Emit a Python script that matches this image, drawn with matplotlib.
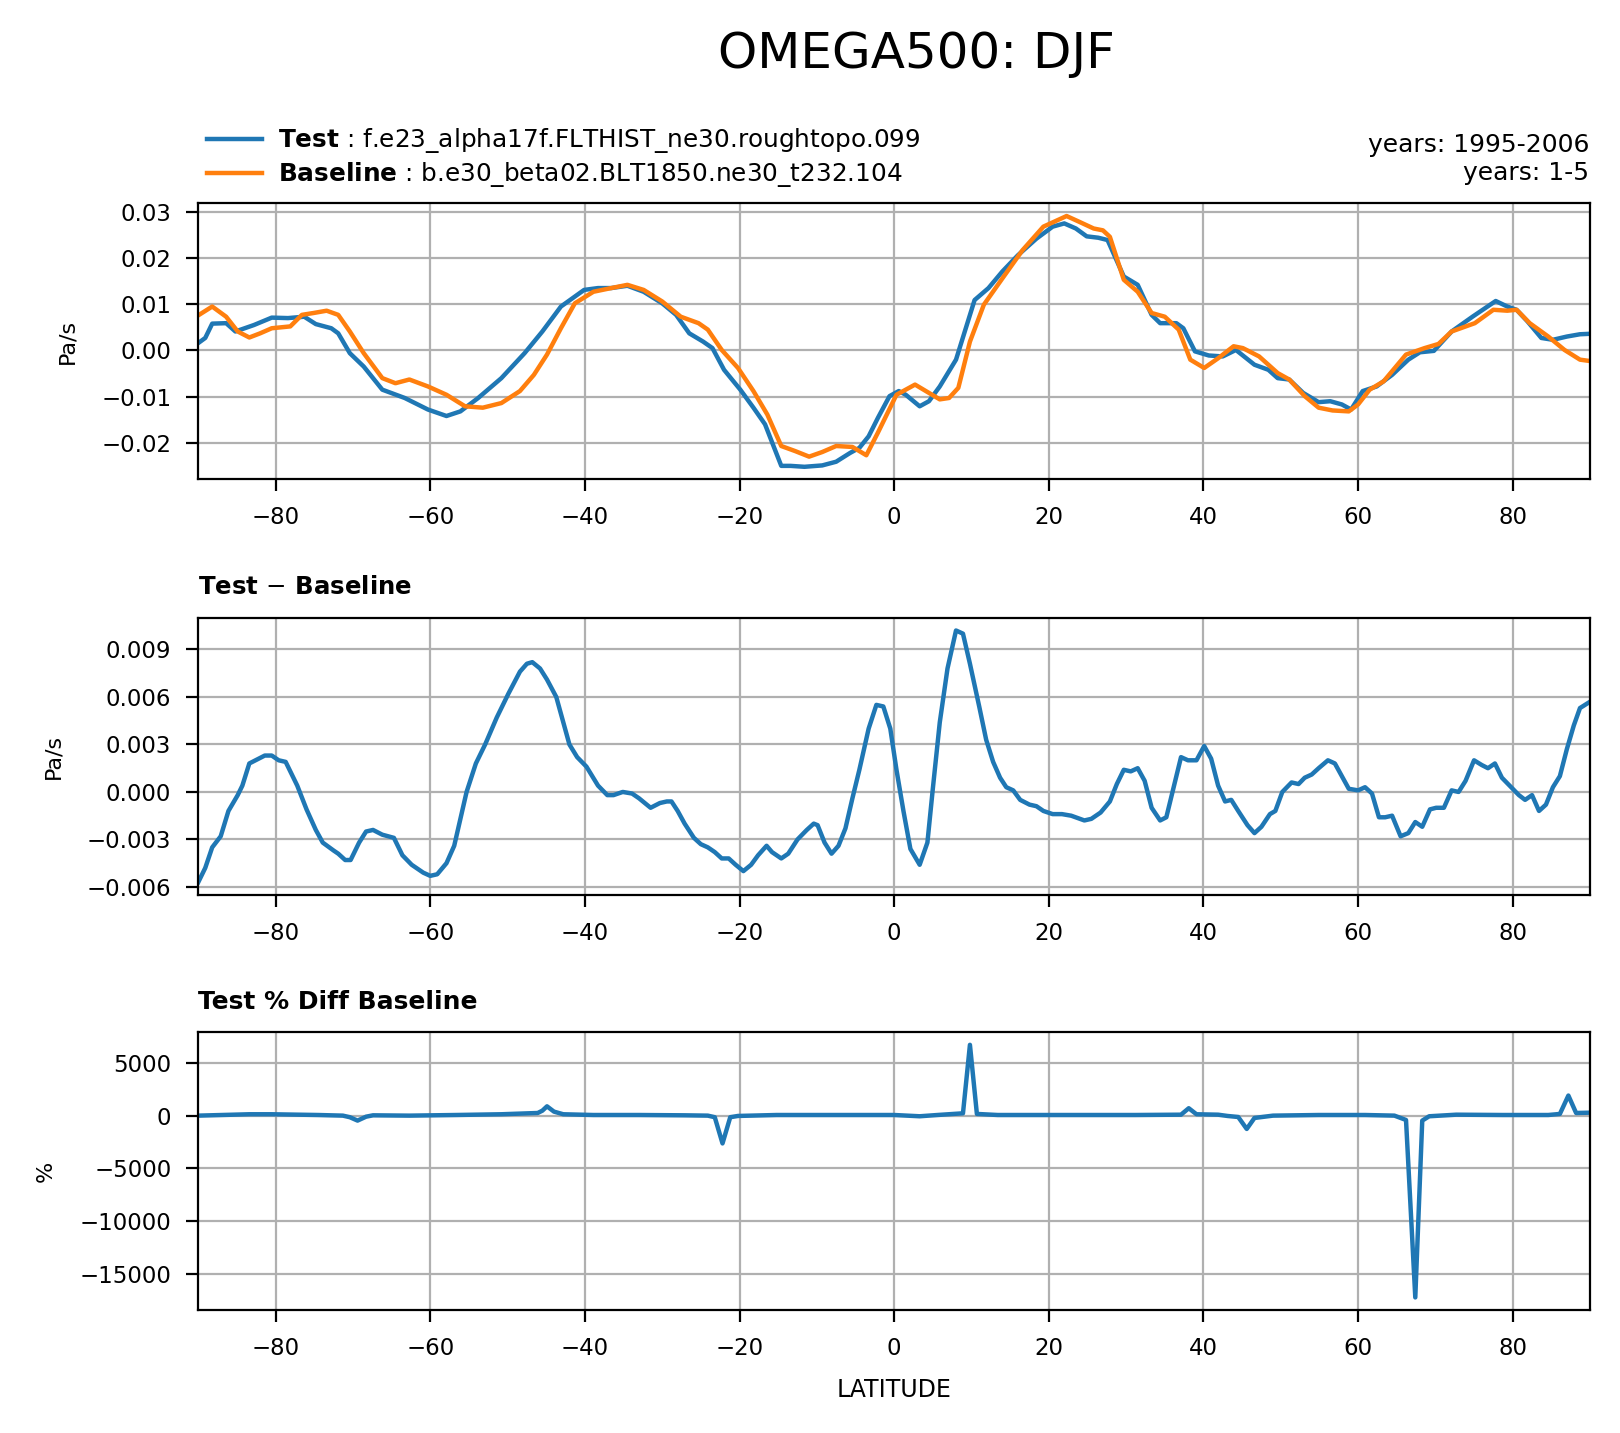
import matplotlib
matplotlib.use("Agg")
import matplotlib.pyplot as plt

# zonal means (Pa/s)
test_lat = [-90, -89.1, -88.2, -86.4, -85.2, -82.8, -80.5, -78.4, -76.3, -74.8,
            -72.8, -71.9, -70.4, -68.6, -66.2, -63.3, -60.3, -57.9, -56.1, -53.8,
            -50.8, -47.8, -45.5, -43.1, -40.1, -38.3, -36.6, -34.5, -32.4, -30.0,
            -28.2, -26.5, -24.7, -23.5, -22.0, -19.9, -18.2, -16.7, -14.6, -13.4,
            -11.6, -9.3, -7.5, -5.7, -4.5, -3.3, -2.1, -0.6, 0.6, 1.5,
            3.3, 4.5, 5.9, 8.0, 10.4, 12.2, 14.0, 16.0, 18.4, 20.5,
            22.0, 23.5, 24.9, 26.4, 27.6, 29.7, 31.5, 33.3, 34.4, 36.5,
            37.4, 38.9, 40.7, 42.5, 44.2, 46.6, 48.4, 49.6, 51.1, 52.9,
            54.9, 56.4, 57.9, 59.1, 60.6, 62.4, 64.4, 66.5, 68.0, 69.8,
            72.1, 74.8, 76.3, 77.8, 79.3, 80.5, 81.9, 83.7, 85.2, 87.0,
            88.7, 90]
test_val = [0.0016, 0.0027, 0.0058, 0.0059, 0.0041, 0.0055, 0.0071, 0.0070, 0.0073, 0.0057,
            0.0048, 0.0037, -0.0006, -0.0035, -0.0085, -0.0103, -0.0128, -0.0142, -0.0132, -0.0103,
            -0.0060, -0.0006, 0.0041, 0.0095, 0.0131, 0.0135, 0.0135, 0.0140, 0.0127, 0.0102,
            0.0077, 0.0037, 0.0019, 0.0005, -0.0042, -0.0085, -0.0124, -0.0160, -0.0250, -0.0250,
            -0.0252, -0.0249, -0.0241, -0.0222, -0.0211, -0.0186, -0.0146, -0.0099, -0.0088, -0.0096,
            -0.0121, -0.0110, -0.0078, -0.0020, 0.0109, 0.0135, 0.0171, 0.0206, 0.0242, 0.0268,
            0.0275, 0.0264, 0.0247, 0.0244, 0.0239, 0.0160, 0.0142, 0.0077, 0.0059, 0.0059,
            0.0048, -0.0002, -0.0011, -0.0013, 0.0001, -0.0031, -0.0042, -0.0060, -0.0063, -0.0092,
            -0.0112, -0.0110, -0.0117, -0.0128, -0.0088, -0.0078, -0.0053, -0.0020, -0.0004, -0.0001,
            0.0041, 0.0073, 0.0090, 0.0107, 0.0095, 0.0088, 0.0063, 0.0027, 0.0023, 0.0030,
            0.0035, 0.0036]

base_lat = [-90, -88.2, -86.4, -84.9, -83.4, -82.0, -80.5, -78.1, -76.6, -75.1,
            -73.4, -71.9, -70.4, -68.6, -66.2, -64.5, -62.7, -60.3, -57.9, -55.5,
            -53.2, -50.8, -48.4, -46.6, -44.9, -43.1, -41.3, -38.9, -36.6, -34.5,
            -32.4, -30.0, -27.6, -25.3, -24.1, -22.3, -20.2, -18.2, -16.4, -14.6,
            -12.8, -11.0, -9.3, -7.5, -5.4, -3.6, -2.1, 0.3, 2.7, 4.5,
            5.9, 7.1, 8.3, 9.8, 11.6, 14.0, 16.6, 19.3, 22.3, 24.0,
            25.8, 27.0, 27.9, 29.7, 31.5, 33.3, 35.0, 36.8, 38.3, 40.1,
            41.9, 43.9, 45.1, 47.2, 49.6, 51.1, 53.1, 54.9, 56.7, 58.8,
            60.0, 61.5, 63.3, 66.2, 68.6, 70.4, 72.1, 75.1, 77.5, 79.3,
            80.5, 82.2, 84.6, 86.7, 88.7, 90]
base_val = [0.0076, 0.0095, 0.0073, 0.0041, 0.0028, 0.0037, 0.0048, 0.0052, 0.0077, 0.0081,
            0.0086, 0.0077, 0.0041, -0.0006, -0.0060, -0.0071, -0.0063, -0.0078, -0.0096, -0.0121,
            -0.0124, -0.0114, -0.0088, -0.0053, -0.0009, 0.0048, 0.0102, 0.0127, 0.0135, 0.0142,
            0.0131, 0.0106, 0.0073, 0.0059, 0.0045, 0.0001, -0.0038, -0.0088, -0.0139, -0.0207,
            -0.0218, -0.0230, -0.0220, -0.0207, -0.0209, -0.0227, -0.0178, -0.0096, -0.0074, -0.0092,
            -0.0106, -0.0103, -0.0081, 0.0019, 0.0099, 0.0156, 0.0217, 0.0268, 0.0291, 0.0278,
            0.0264, 0.0260, 0.0246, 0.0153, 0.0127, 0.0081, 0.0073, 0.0045, -0.0020, -0.0038,
            -0.0017, 0.0009, 0.0005, -0.0013, -0.0049, -0.0063, -0.0099, -0.0124, -0.0130, -0.0132,
            -0.0117, -0.0085, -0.0067, -0.0009, 0.0005, 0.0014, 0.0041, 0.0059, 0.0088, 0.0086,
            0.0088, 0.0059, 0.0030, 0.0001, -0.0020, -0.0023]

diff_lat = [-90, -89.1, -88.2, -87.1, -86.1, -84.9, -84.3, -83.4, -82.6, -81.4,
            -80.5, -79.6, -78.7, -77.2, -76.0, -74.8, -73.9, -72.5, -71.9, -71.0,
            -70.3, -69.2, -68.3, -67.4, -66.2, -64.7, -63.6, -62.4, -60.9, -60.0,
            -59.1, -57.9, -56.9, -55.3, -54.1, -52.9, -51.4, -49.9, -48.4, -47.5,
            -46.8, -45.8, -44.9, -43.7, -42.0, -41.0, -39.8, -38.3, -37.1, -36.3,
            -35.1, -33.9, -33.0, -31.5, -30.3, -29.4, -28.8, -28.0, -27.1, -25.9,
            -25.0, -24.1, -23.2, -22.3, -21.4, -20.5, -19.5, -18.5, -17.6, -16.5,
            -15.8, -14.6, -13.7, -12.5, -11.3, -10.4, -9.9, -9.0, -8.1, -7.2,
            -6.3, -5.4, -4.5, -3.3, -2.3, -1.4, -0.5, 0.3, 1.2, 2.1,
            3.3, 4.3, 5.0, 5.9, 6.9, 8.0, 8.9, 9.8, 11.0, 11.9,
            12.8, 13.7, 14.5, 15.4, 16.3, 17.5, 18.4, 19.3, 20.5, 21.7,
            22.9, 24.6, 25.5, 26.7, 27.9, 28.8, 29.7, 30.6, 31.5, 32.4,
            33.3, 34.4, 35.2, 36.2, 37.1, 38.0, 39.1, 40.1, 41.0, 41.9,
            42.8, 43.6, 44.5, 45.7, 46.6, 47.5, 48.6, 49.3, 50.2, 51.4,
            52.3, 53.1, 54.0, 54.9, 56.1, 57.0, 57.9, 58.8, 60.0, 60.9,
            61.8, 62.7, 63.5, 64.4, 65.5, 66.5, 67.4, 68.3, 69.3, 70.1,
            71.1, 72.1, 73.0, 73.9, 75.0, 76.0, 76.8, 77.7, 78.6, 79.6,
            80.8, 81.6, 82.5, 83.4, 84.3, 85.2, 86.1, 87.0, 87.9, 88.7,
            90]
diff_val = [-0.0057, -0.0048, -0.0035, -0.0028, -0.0012, -0.0002, 0.0004, 0.0018, 0.0020, 0.0023,
            0.0023, 0.0020, 0.0019, 0.0004, -0.0011, -0.0024, -0.0032, -0.0037, -0.0039, -0.0043,
            -0.0043, -0.0032, -0.0025, -0.0024, -0.0027, -0.0029, -0.0040, -0.0046, -0.0051, -0.0053,
            -0.0052, -0.0045, -0.0034, 0.0000, 0.0018, 0.0030, 0.0047, 0.0062, 0.0076, 0.0081,
            0.0082, 0.0078, 0.0071, 0.0060, 0.0030, 0.0022, 0.0016, 0.0004, -0.0002, -0.0002,
            0.0000, -0.0001, -0.0004, -0.0010, -0.0007, -0.0006, -0.0006, -0.0012, -0.0020, -0.0029,
            -0.0033, -0.0035, -0.0038, -0.0042, -0.0042, -0.0046, -0.0050, -0.0046, -0.0040, -0.0034,
            -0.0038, -0.0042, -0.0039, -0.0030, -0.0024, -0.0020, -0.0021, -0.0032, -0.0039, -0.0034,
            -0.0023, -0.0004, 0.0014, 0.0040, 0.0055, 0.0054, 0.0040, 0.0014, -0.0012, -0.0036,
            -0.0046, -0.0032, 0.0002, 0.0044, 0.0078, 0.0102, 0.0100, 0.0081, 0.0054, 0.0033,
            0.0019, 0.0009, 0.0003, 0.0001, -0.0005, -0.0008, -0.0009, -0.0012, -0.0014, -0.0014,
            -0.0015, -0.0018, -0.0017, -0.0013, -0.0006, 0.0005, 0.0014, 0.0013, 0.0015, 0.0007,
            -0.0010, -0.0018, -0.0016, 0.0004, 0.0022, 0.0020, 0.0020, 0.0029, 0.0021, 0.0004,
            -0.0006, -0.0005, -0.0012, -0.0021, -0.0026, -0.0022, -0.0014, -0.0012, 0.0000, 0.0006,
            0.0005, 0.0009, 0.0011, 0.0015, 0.0020, 0.0018, 0.0010, 0.0002, 0.0001, 0.0003,
            -0.0001, -0.0016, -0.0016, -0.0015, -0.0028, -0.0026, -0.0019, -0.0022, -0.0011, -0.0010,
            -0.0010, 0.0001, 0.0000, 0.0007, 0.0020, 0.0017, 0.0015, 0.0018, 0.0009, 0.0004,
            -0.0002, -0.0005, -0.0002, -0.0012, -0.0008, 0.0003, 0.0010, 0.0027, 0.0042, 0.0053,
            0.0057]

pct_lat = [-90, -83.4, -80.5, -74.5, -71.3, -70.4, -69.4, -68.3, -67.4, -62.7,
           -56.7, -50.8, -46.1, -45.5, -44.9, -44.0, -42.8, -38.9, -33.0, -27.1,
           -24.1, -23.2, -22.2, -21.2, -20.2, -15.2, -9.3, -3.3, 0, 3.3,
           5.6, 8.9, 9.8, 10.7, 13.4, 19.3, 25.2, 31.2, 37.1, 38.1,
           39.1, 41.9, 43.1, 44.5, 45.6, 46.6, 49.0, 54.9, 60.9, 64.7,
           66.2, 67.4, 68.3, 69.2, 72.7, 78.7, 84.6, 86.1, 87.2, 88.2,
           90]
pct_val = [0, 130, 130, 60, 0, -150, -470, -100, 30, 0,
           60, 130, 250, 470, 880, 380, 130, 60, 60, 30,
           0, -150, -2630, -150, -30, 60, 60, 60, 60, -60,
           60, 220, 6700, 160, 60, 60, 60, 60, 90, 700,
           130, 90, -30, -130, -1260, -220, 0, 60, 60, 0,
           -410, -17200, -470, -60, 90, 60, 60, 160, 1900, 250,
           280]

lat_ticks = [-80, -60, -40, -20, 0, 20, 40, 60, 80]
top_ticks = [-0.02, -0.01, 0.0, 0.01, 0.02, 0.03]
diff_ticks = [-0.006, -0.003, 0.0, 0.003, 0.006, 0.009]
pct_ticks = [-15000, -10000, -5000, 0, 5000]

test_name = "f.e23_alpha17f.FLTHIST_ne30.roughtopo.099"
base_name = "b.e30_beta02.BLT1850.ne30_t232.104"
test_years = "years: 1995-2006"
base_years = "years: 1-5"

fs = 8.25
lw = 1.6

fig = plt.figure(figsize=(8.1, 7.165), dpi=200)

ax1 = fig.add_axes([0.1224, 0.6655, 0.8591, 0.1925])
ax2 = fig.add_axes([0.1224, 0.3756, 0.8591, 0.1932])
ax3 = fig.add_axes([0.1224, 0.0858, 0.8591, 0.1939])

# panel 1: test and baseline
ax1.plot(test_lat, test_val, color="C0", lw=lw, label=r"$\bf{Test}$ : " + test_name)
ax1.plot(base_lat, base_val, color="C1", lw=lw, label=r"$\bf{Baseline}$ : " + base_name)
ax1.set_yticks(top_ticks)
ax1.set_ylabel("Pa/s", fontsize=8, labelpad=8.5)
ax1.legend(loc="lower left", bbox_to_anchor=(0.1276, 0.868), bbox_transform=fig.transFigure,
           frameon=False, fontsize=8.9, borderpad=0, borderaxespad=0,
           handlelength=2.25, handletextpad=0.65, labelspacing=0.2)

# panel 2: difference
ax2.plot(diff_lat, diff_val, color="C0", lw=lw)
ax2.set_yticks(diff_ticks)
ax2.set_ylabel("Pa/s", fontsize=8, labelpad=8.5)
ax2.set_title("Test $-$ Baseline", loc="left", fontsize=8.8, fontweight="bold", pad=8.5)

# panel 3: percent difference
ax3.plot(pct_lat, pct_val, color="C0", lw=lw)
ax3.set_yticks(pct_ticks)
ax3.set_ylabel("%", fontsize=8, labelpad=8.5)
ax3.set_title("Test % Diff Baseline", loc="left", fontsize=9, fontweight="bold", pad=8.5)
ax3.set_xlabel("LATITUDE", fontsize=8.5, labelpad=6.5)

for ax in (ax1, ax2, ax3):
    ax.set_xlim(-90, 90)
    ax.set_xticks(lat_ticks)
    ax.tick_params(labelsize=fs, length=4.2, pad=5.5)
    ax.grid(True)

fig.text(0.981, 0.899, test_years, ha="right", va="center", fontsize=9)
fig.text(0.981, 0.8795, base_years, ha="right", va="center", fontsize=9)
fig.text(0.566, 0.9625, "OMEGA500: DJF", ha="center", va="center", fontsize=18)

fig.savefig("out.png", dpi=200)
